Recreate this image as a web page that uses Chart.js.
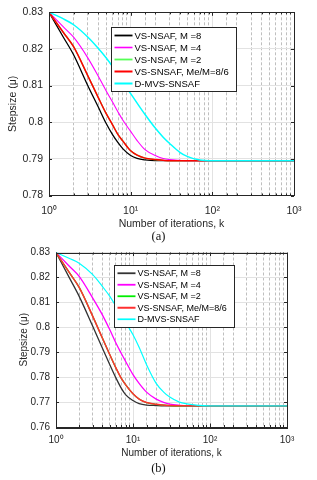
<!DOCTYPE html>
<html>
<head>
<meta charset="utf-8">
<script src="https://cdn.jsdelivr.net/npm/chart.js@4.4.1/dist/chart.umd.min.js"></script>
<style>
  html, body { margin: 0; padding: 0; background: #fff; }
  body { width: 317px; height: 480px; position: relative; overflow: hidden; }
  .panel { position: absolute; left: 0; }
  .cap { position: absolute; left: 0; width: 317px; text-align: center; font: 12.5px "Liberation Serif", "Times New Roman", serif; color: #111; }
</style>
</head>
<body>
<div class="panel" style="top:0"><canvas id="chartA" width="317" height="230"></canvas></div>
<div class="cap" style="top:229px">(a)</div>
<div class="panel" style="top:240px"><canvas id="chartB" width="317" height="220"></canvas></div>
<div class="cap" style="top:461px">(b)</div>
<script>
// iteration index k (log axis)
const iterK = [1, 1.5, 2, 3, 4, 5, 6, 7, 8, 10, 12, 15, 20, 25, 30, 40, 50, 70, 100, 1000];

const seriesNames = ['VS-NSAF, M =8', 'VS-NSAF, M =4', 'VS-NSAF, M =2', 'VS-SNSAF, Me/M=8/6', 'D-MVS-SNSAF'];

// panel (a)
const nsaf8A  = [0.83, 0.8232, 0.8184, 0.8099, 0.8042, 0.7997, 0.7966, 0.7944, 0.7928, 0.7909, 0.7901, 0.7897, 0.7895, 0.7895, 0.7895, 0.7895, 0.7895, 0.7895, 0.7895, 0.7895];
const nsaf4A  = [0.83, 0.8260, 0.8232, 0.8175, 0.8126, 0.8086, 0.8055, 0.8028, 0.8006, 0.7975, 0.7950, 0.7925, 0.7909, 0.7901, 0.7898, 0.7896, 0.7895, 0.7895, 0.7895, 0.7895];
const nsaf2A  = [0.83, 0.8245, 0.8206, 0.8126, 0.8068, 0.8024, 0.7993, 0.7966, 0.7949, 0.7922, 0.7910, 0.7902, 0.7898, 0.7896, 0.7895, 0.7895, 0.7895, 0.7895, 0.7895, 0.7895];
const snsafA  = [0.83, 0.8245, 0.8206, 0.8126, 0.8068, 0.8024, 0.7993, 0.7966, 0.7949, 0.7922, 0.7910, 0.7902, 0.7898, 0.7896, 0.7895, 0.7895, 0.7895, 0.7895, 0.7895, 0.7895];
const dmvsA   = [0.83, 0.8282, 0.8266, 0.8232, 0.8202, 0.8176, 0.8152, 0.8130, 0.8110, 0.8078, 0.8052, 0.8021, 0.7984, 0.7959, 0.7942, 0.7918, 0.7906, 0.7897, 0.7895, 0.7895];
const yTicksA = [0.78, 0.79, 0.8, 0.81, 0.82, 0.83];

// panel (b)
const nsaf8B  = [0.83, 0.8197, 0.8124, 0.8004, 0.7917, 0.7850, 0.7797, 0.7757, 0.7730, 0.7706, 0.7694, 0.7688, 0.7686, 0.7685, 0.7685, 0.7685, 0.7685, 0.7685, 0.7685, 0.7685];
const nsaf4B  = [0.83, 0.8244, 0.8204, 0.8117, 0.8050, 0.7990, 0.7937, 0.7897, 0.7864, 0.7810, 0.7775, 0.7740, 0.7712, 0.7699, 0.7692, 0.7687, 0.7685, 0.7685, 0.7685, 0.7685];
const nsaf2B  = [0.83, 0.8218, 0.8160, 0.8044, 0.7957, 0.7890, 0.7837, 0.7797, 0.7770, 0.7733, 0.7712, 0.7698, 0.7691, 0.7688, 0.7686, 0.7685, 0.7685, 0.7685, 0.7685, 0.7685];
const snsafB  = [0.83, 0.8218, 0.8160, 0.8044, 0.7957, 0.7890, 0.7837, 0.7797, 0.7770, 0.7733, 0.7712, 0.7698, 0.7691, 0.7688, 0.7686, 0.7685, 0.7685, 0.7685, 0.7685, 0.7685];
const dmvsB   = [0.83, 0.8276, 0.8257, 0.8211, 0.8164, 0.8124, 0.8084, 0.8050, 0.8020, 0.7970, 0.7920, 0.7850, 0.7775, 0.7740, 0.7720, 0.7700, 0.7693, 0.7687, 0.7685, 0.7685];
const yTicksB = [0.76, 0.77, 0.78, 0.79, 0.8, 0.81, 0.82, 0.83];

const decadeTicks = [1, 10, 100, 1000];
const decadeLabels = ['10\u2070', '10\u00b9', '10\u00b2', '10\u00b3'];

const AXIS = '#262626';
const fontFamily = '"Liberation Sans", Arial, sans-serif';

// matlab draws later lines on top -> give earlier ones a higher order
function makeSets(values, colors, widths) {
  return values.map((v, i) => ({
    label: seriesNames[i],
    data: iterK.map((k, j) => ({ x: k, y: v[j] })),
    borderColor: colors[i],
    borderWidth: widths[i],
    legendWidth: widths[i] + 0.5,
    pointRadius: 0,
    fill: false,
    cubicInterpolationMode: 'monotone',
    order: values.length - i
  }));
}

// box legend inside the axes, like matlab's
const boxLegend = {
  id: 'boxLegend',
  afterDraw(chart, args, opts) {
    const { ctx, chartArea } = chart;
    const sets = chart.data.datasets;
    ctx.save();
    ctx.font = opts.fontSize + 'px ' + fontFamily;
    let textW = 0;
    sets.forEach(ds => { textW = Math.max(textW, ctx.measureText(ds.label).width); });
    const x0 = Math.round(chartArea.left + opts.dx) + 0.5;
    const y0 = Math.round(chartArea.top + opts.dy) + 0.5;
    const w = Math.round(3 + opts.lineLen + 2 + textW + 8);
    const h = Math.round(4 + opts.rowH * sets.length);
    ctx.fillStyle = '#fff';
    ctx.fillRect(x0, y0, w, h);
    ctx.strokeStyle = AXIS;
    ctx.lineWidth = 1;
    ctx.strokeRect(x0, y0, w, h);
    sets.forEach((ds, i) => {
      const cy = y0 + 2 + opts.rowH * (i + 0.5);
      ctx.strokeStyle = ds.borderColor;
      ctx.lineWidth = ds.legendWidth;
      ctx.beginPath();
      ctx.moveTo(x0 + 3, cy);
      ctx.lineTo(x0 + 3 + opts.lineLen, cy);
      ctx.stroke();
      ctx.fillStyle = '#000';
      ctx.textBaseline = 'middle';
      ctx.fillText(ds.label, x0 + 3 + opts.lineLen + 2, cy + 0.5);
    });
    ctx.restore();
  }
};

// full box + inward tick marks
const axesFrame = {
  id: 'axesFrame',
  afterDatasetsDraw(chart) {
    const { ctx, chartArea: a, scales: { x, y } } = chart;
    ctx.save();
    ctx.strokeStyle = AXIS;
    ctx.lineWidth = 1;
    ctx.beginPath();
    x.ticks.forEach(t => {
      const px = Math.round(x.getPixelForValue(t.value)) + 0.5;
      const len = decadeTicks.includes(t.value) ? 3.5 : 2;
      ctx.moveTo(px, a.bottom); ctx.lineTo(px, a.bottom - len);
      ctx.moveTo(px, a.top); ctx.lineTo(px, a.top + len);
    });
    y.ticks.forEach(t => {
      const py = Math.round(y.getPixelForValue(t.value)) + 0.5;
      ctx.moveTo(a.left, py); ctx.lineTo(a.left + 3, py);
      ctx.moveTo(a.right, py); ctx.lineTo(a.right - 3, py);
    });
    ctx.stroke();
    ctx.strokeRect(Math.round(a.left) + 0.5, Math.round(a.top) + 0.5,
      Math.round(a.right - a.left), Math.round(a.bottom - a.top));
    ctx.restore();
  }
};

function makeChart(id, sets, yTicks, cfg) {
  const font = { family: fontFamily, size: cfg.fontSize };
  return new Chart(document.getElementById(id), {
    type: 'line',
    data: { datasets: sets },
    options: {
      responsive: false,
      animation: false,
      layout: { padding: { top: cfg.padTop, right: cfg.padRight, left: 0, bottom: 0 } },
      scales: {
        x: {
          type: 'logarithmic',
          min: 1,
          max: 1000,
          afterFit: (s) => { s.height = cfg.xHeight; },
          grid: {
            drawTicks: false,
            color: (c) => (c.tick && !decadeTicks.includes(c.tick.value)) ? 'rgba(0,0,0,0.25)' : '#e2e2e2'
          },
          border: {
            color: AXIS,
            dash: (c) => (c.tick && !decadeTicks.includes(c.tick.value)) ? [3, 2] : []
          },
          ticks: {
            autoSkip: false,
            maxRotation: 0,
            padding: cfg.xTickPad,
            color: AXIS,
            font: font,
            callback: (v) => {
              const i = decadeTicks.indexOf(v);
              return i >= 0 ? decadeLabels[i] : '';
            }
          },
          title: {
            display: true,
            text: 'Number of iterations, k',
            color: AXIS,
            font: font,
            padding: { top: 0, bottom: cfg.xTitlePad }
          }
        },
        y: {
          min: yTicks[0],
          max: yTicks[yTicks.length - 1],
          afterFit: (s) => { s.width = cfg.yWidth; },
          afterBuildTicks: (s) => { s.ticks = yTicks.map(v => ({ value: v })); },
          grid: { drawTicks: false, color: '#e2e2e2' },
          border: { color: AXIS },
          ticks: {
            padding: 6,
            color: AXIS,
            font: font,
            callback: (v) => String(Number(v.toFixed(2)))
          },
          title: {
            display: true,
            text: 'Stepsize (\u03bc)',
            color: AXIS,
            font: font,
            padding: { top: cfg.yTitlePad, bottom: 0 }
          }
        }
      },
      plugins: {
        legend: { display: false },
        tooltip: { enabled: false },
        boxLegend: { dx: cfg.legDx, dy: cfg.legDy, rowH: cfg.rowH, lineLen: 18, fontSize: cfg.legFont }
      }
    },
    plugins: [axesFrame, boxLegend]
  });
}

makeChart('chartA',
  makeSets([nsaf8A, nsaf4A, nsaf2A, snsafA, dmvsA],
    ['#000000', '#ff00ff', '#55ff55', '#ff0000', '#00ffff'],
    [1.3, 1.1, 1.3, 1.5, 1.5]),
  yTicksA,
  { fontSize: 10.5, legFont: 9.5, padTop: 9, padRight: 23, xHeight: 34.5, xTickPad: 9, xTitlePad: 0,
    yWidth: 49, yTitlePad: 7, legDx: 61.5, legDy: 15, rowH: 12 });

makeChart('chartB',
  makeSets([nsaf8B, nsaf4B, nsaf2B, snsafB, dmvsB],
    ['#333333', '#ff00ff', '#00ee00', '#ff3030', '#00ffff'],
    [1.3, 1.3, 1.3, 1.5, 1.2]),
  yTicksB,
  { fontSize: 10, legFont: 9, padTop: 12.5, padRight: 30, xHeight: 33, xTickPad: 7, xTitlePad: 0.5,
    yWidth: 56, yTitlePad: 18, legDx: 57.5, legDy: 12.5, rowH: 11.5 });
</script>
</body>
</html>
